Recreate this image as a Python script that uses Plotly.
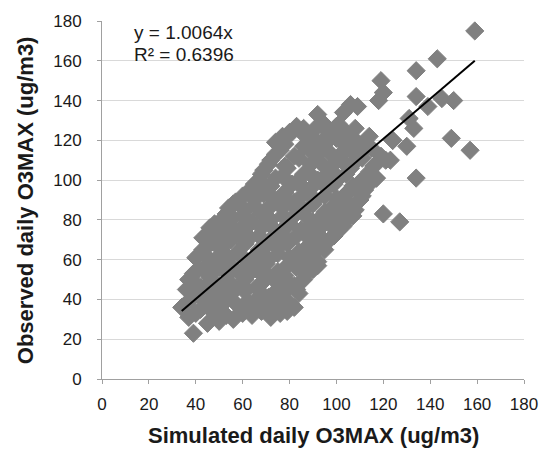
import plotly.graph_objects as go

# Simulated vs observed daily maximum ozone (ug/m3)
simulated = [
    39,
    45, 50,
    37, 56, 64, 72, 79,
    34, 42, 49, 60, 68, 76, 82,
    38, 46, 53, 62, 71, 78,
    36, 42, 50, 57, 66, 74, 83,
    37, 46, 54, 61, 70, 79, 86,
    41, 50, 58, 66, 75, 83, 90,
    40, 46, 54, 62, 71, 80, 88, 92,
    43, 50, 58, 67, 75, 84, 95,
    43, 47, 55, 63, 71, 79, 88, 97,
    46, 51, 59, 68, 76, 85, 93, 101,
    51, 56, 64, 72, 81, 90, 98, 105,
    54, 61, 69, 77, 86, 95, 103, 108,
    57, 65, 73, 82, 91, 100, 110,
    63, 69, 78, 87, 96, 105, 112,
    67, 74, 83, 92, 101, 110, 117,
    69, 79, 88, 97, 106, 114,
    72, 84, 93, 102, 111, 121,
    76, 88, 97, 106, 115,
    74, 81, 91, 100, 109, 124,
    80, 86, 96, 104,
    94, 101,
    92, 103,
    106, 109,
    40, 47, 53, 60, 68, 76,
    36, 44, 51, 57, 65, 73, 80,
    40, 47, 55, 61, 69, 77, 84,
    40, 45, 52, 60, 68, 75, 82,
    39, 46, 54, 62, 70, 78, 87,
    45, 54, 62, 70, 79, 86, 92,
    42, 50, 58, 66, 75, 84, 90,
    46, 52, 61, 70, 79, 88, 93,
    45, 51, 59, 67, 75, 83, 92, 99,
    48, 55, 63, 72, 80, 89, 97, 103,
    53, 60, 68, 77, 86, 94, 102, 107,
    56, 65, 73, 82, 90, 99, 106,
    60, 69, 77, 86, 95, 104, 111,
    65, 72, 81, 90, 99, 107, 114,
    68, 77, 86, 95, 104, 113,
    71, 78, 89, 98, 107, 116,
    74, 82, 92, 101, 110, 119,
    78, 86, 95, 104, 113,
    77, 86, 96, 105, 114,
    83, 91, 100, 108,
    119, 120, 118, 134, 139, 145, 150, 131, 133, 130,
    149, 157, 134, 117, 123, 124, 120, 127, 143, 134, 159,
]
observed = [
    23,
    28, 29,
    31, 30, 32, 31, 34,
    36, 35, 37, 36, 35, 37, 36,
    40, 41, 40, 39, 41, 40,
    45, 46, 44, 45, 46, 44, 45,
    50, 51, 49, 50, 51, 49, 50,
    55, 56, 54, 55, 54, 56, 55,
    61, 60, 61, 59, 60, 61, 60, 59,
    65, 66, 64, 65, 66, 64, 65,
    71, 69, 70, 71, 69, 70, 71, 70,
    76, 74, 75, 76, 74, 75, 76, 75,
    80, 81, 79, 80, 81, 79, 80, 81,
    86, 85, 84, 86, 85, 84, 86, 85,
    89, 90, 91, 89, 90, 91, 90,
    95, 96, 94, 95, 96, 94, 95,
    100, 101, 99, 100, 101, 99, 101,
    105, 106, 104, 105, 106, 104,
    110, 111, 109, 110, 111, 110,
    115, 116, 114, 115, 116,
    119, 124, 120, 121, 119, 120,
    124, 126, 125, 124,
    129, 128,
    133, 134,
    138, 137,
    33, 34, 32, 33, 34, 33,
    38, 39, 37, 38, 39, 38, 38,
    43, 42, 43, 44, 42, 43, 43,
    48, 47, 48, 47, 48, 48, 47,
    53, 52, 53, 52, 53, 52, 53,
    57, 58, 57, 58, 57, 58, 57,
    63, 62, 63, 62, 63, 62, 63,
    68, 67, 68, 67, 68, 67, 68,
    73, 72, 73, 72, 73, 72, 73, 72,
    78, 77, 78, 77, 78, 77, 78, 77,
    83, 82, 83, 82, 83, 82, 83, 82,
    88, 87, 88, 87, 88, 87, 88,
    92, 93, 92, 93, 92, 93, 92,
    98, 97, 98, 97, 98, 97, 98,
    103, 102, 103, 102, 103, 102,
    108, 107, 108, 107, 108, 107,
    113, 112, 113, 112, 113, 112,
    118, 117, 118, 117, 118,
    122, 123, 122, 123, 122,
    127, 126, 127, 126,
    150, 144, 140, 142, 137, 141, 140, 131, 126, 117,
    121, 115, 101, 101, 110, 120, 83, 79, 161, 155, 175,
]

slope = 1.0064
eq_text = "y = 1.0064x"
r2_text = "R² = 0.6396"
x_ticks = [0, 20, 40, 60, 80, 100, 120, 140, 160, 180]
y_ticks = [0, 20, 40, 60, 80, 100, 120, 140, 160, 180]
x_title = "Simulated daily O3MAX (ug/m3)"
y_title = "Observed daily O3MAX (ug/m3)"

FONT = "Liberation Sans, Arial, sans-serif"
MARKER_GREY = "#808080"

fig = go.Figure()
fig.add_trace(go.Scatter(
    x=simulated, y=observed, mode="markers",
    marker=dict(symbol="diamond", size=14, color=MARKER_GREY,
                line=dict(width=1, color=MARKER_GREY)),
    showlegend=False, hoverinfo="x+y",
))

# Linear trend through the origin, drawn over the data range
x_lo, x_hi = min(simulated), max(simulated)
fig.add_trace(go.Scatter(
    x=[x_lo, x_hi], y=[slope * x_lo, slope * x_hi], mode="lines",
    line=dict(color="#000000", width=2), showlegend=False, hoverinfo="skip",
))

axis_common = dict(
    range=[0, 180], tickvals=x_ticks, ticks="outside", ticklen=4,
    tickcolor="#a0a0a0", showline=True, linecolor="#a0a0a0", linewidth=1,
    zeroline=False, tickfont=dict(family=FONT, size=17, color="#1a1a1a"),
)

fig.update_layout(
    width=552, height=452,
    margin=dict(l=102, r=28, t=17, b=73),
    paper_bgcolor="white", plot_bgcolor="white",
    font=dict(family=FONT),
    xaxis=dict(**axis_common, showgrid=False, ticklabelstandoff=6),
    yaxis=dict(**{**axis_common, "tickvals": y_ticks}, showgrid=True,
               gridcolor="#d9d9d9", gridwidth=1, ticklabelstandoff=12),
    annotations=[
        dict(text="<b>" + x_title + "</b>", xref="paper", yref="paper",
             x=0.5, y=-0.159, xanchor="center", yanchor="middle",
             showarrow=False, font=dict(family=FONT, size=22, color="#1a1a1a")),
        dict(text="<b>" + y_title + "</b>", xref="paper", yref="paper",
             x=-0.182, y=0.5, xanchor="center", yanchor="middle",
             showarrow=False, textangle=-90,
             font=dict(family=FONT, size=22, color="#1a1a1a")),
        dict(text=eq_text, xref="paper", yref="paper", x=0.07, y=0.967,
             xanchor="left", yanchor="middle", showarrow=False,
             font=dict(family=FONT, size=19, color="#1a1a1a")),
        dict(text=r2_text, xref="paper", yref="paper", x=0.07, y=0.906,
             xanchor="left", yanchor="middle", showarrow=False,
             font=dict(family=FONT, size=19, color="#1a1a1a")),
    ],
)

fig.write_html("out.html")
